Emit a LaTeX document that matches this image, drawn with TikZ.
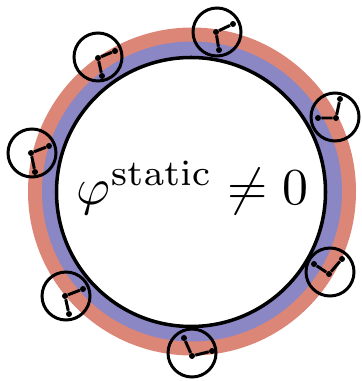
\documentclass[tikz,border=0pt]{standalone}
\usepackage{amsmath, amssymb}
\definecolor{ringred}{HTML}{DC8678}
\definecolor{ringblue}{HTML}{8B86C4}
\tikzset{
    dial/.style={circle, draw, line width=1.7pt, minimum size=1.02cm-1.7pt, inner sep=0pt},
    atom/.style={circle, fill, inner sep=1.2pt},
    bond/.style={line width=1.7pt}
}

\begin{document}
\begin{tikzpicture}[x=0.02cm, y=-0.02cm]

        \useasboundingbox (0,0) rectangle (361,381);

        \fill[ringred] (192,191.5) circle (164);
        \fill[ringblue] (192,191.5) circle (150);
        \draw[line width=2pt, fill=white] (191,192) circle (134.5);

        \node[scale=2.95, inner sep=0pt] (label) at (192.5,187.5) {$\varphi^{\mathrm{static}} \neq 0$};

        \node[dial] (dial_a) at (98,57) {};
        \node[atom] (a_mid) at (98,58) {};
        \node[atom] (a_one) at (115,51) {};
        \node[atom] (a_two) at (102,76) {};
        \draw[bond] (a_one) -- (a_mid) -- (a_two);

        \node[dial] (dial_b) at (32,153) {};
        \node[atom] (b_mid) at (31,153) {};
        \node[atom] (b_one) at (49,146) {};
        \node[atom] (b_two) at (35,172) {};
        \draw[bond] (b_one) -- (b_mid) -- (b_two);

        \node[dial] (dial_c) at (217,32) {};
        \node[atom] (c_mid) at (216,32) {};
        \node[atom] (c_one) at (233,24) {};
        \node[atom] (c_two) at (219,50) {};
        \draw[bond] (c_one) -- (c_mid) -- (c_two);

        \node[dial] (dial_d) at (335,117) {};
        \node[atom] (d_mid) at (336,118) {};
        \node[atom] (d_one) at (318,118) {};
        \node[atom] (d_two) at (340,99) {};
        \draw[bond] (d_one) -- (d_mid) -- (d_two);

        \node[dial] (dial_e) at (330,272) {};
        \node[atom] (e_mid) at (329,274) {};
        \node[atom] (e_one) at (314,264) {};
        \node[atom] (e_two) at (342,259) {};
        \draw[bond] (e_one) -- (e_mid) -- (e_two);

        \node[dial] (dial_f) at (66,296) {};
        \node[atom] (f_mid) at (65,296) {};
        \node[atom] (f_one) at (83,289) {};
        \node[atom] (f_two) at (69,314) {};
        \draw[bond] (f_one) -- (f_mid) -- (f_two);

        \node[dial] (dial_g) at (192,353) {};
        \node[atom] (g_mid) at (192,356) {};
        \node[atom] (g_one) at (184,338) {};
        \node[atom] (g_two) at (212,351) {};
        \draw[bond] (g_one) -- (g_mid) -- (g_two);

    \end{tikzpicture}
\end{document}
